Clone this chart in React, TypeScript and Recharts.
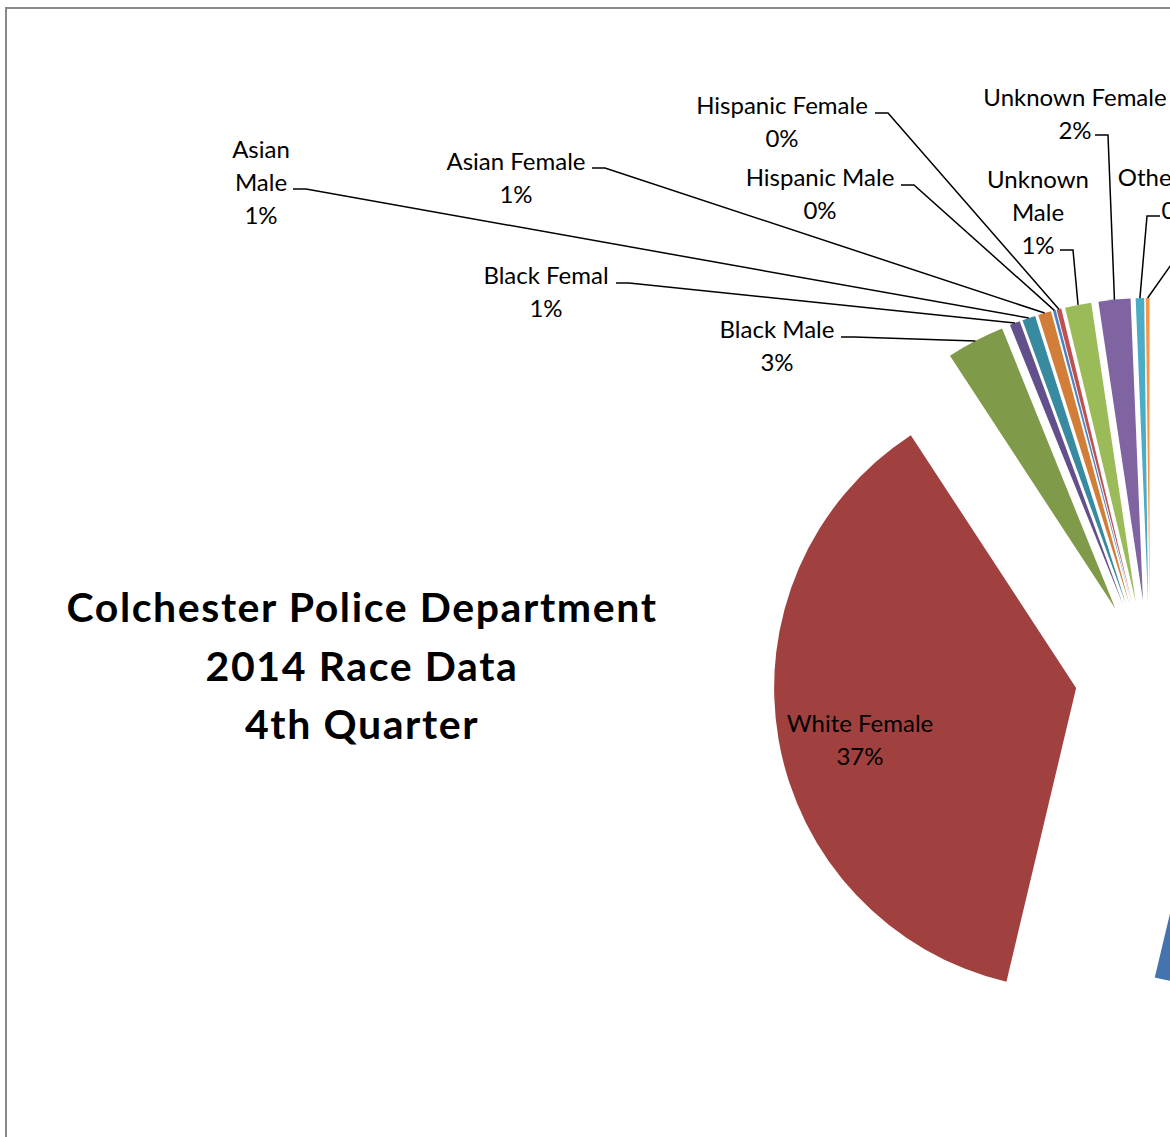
import { Cell, Pie, PieChart, Sector } from 'recharts'

// slices, clockwise from 12 o'clock
const NAMES = [
  'White Male',
  'White Female',
  'Black Male',
  'Black Femal',
  'Asian Male',
  'Asian Female',
  'Hispanic Male',
  'Hispanic Female',
  'Unknown Male',
  'Unknown Female',
  'Other Male',
  'Other Female',
]
const SHARES = [53.6, 37.0, 3.1, 0.55, 0.7, 0.7, 0.15, 0.25, 1.4, 1.7, 0.45, 0.2]
const COLORS = [
  '#4573AE',
  '#A0413F',
  '#7F9A48',
  '#62508C',
  '#378AA0',
  '#D27E38',
  '#4F81BD',
  '#C0504D',
  '#9BBB59',
  '#8064A2',
  '#4BACC6',
  '#F79646',
]

const TITLE_LINES = ['Colchester Police Department', '2014 Race Data', '4th Quarter']

// label placement (Excel had them dragged by hand)
const LABEL_POS: any[] = [
  { x: 1330, y: 860, inside: true },
  { x: 860, y: 722, inside: true },
  { x: 777, y: 328, ax: 841, ay: 337, dir: 1 },
  { x: 546, y: 274, ax: 616, ay: 283, dir: 1 },
  { x: 261, y: 148, ax: 293, ay: 189, dir: 1, wrap: true },
  { x: 516, y: 160, ax: 592, ay: 168, dir: 1 },
  { x: 820, y: 176, ax: 901, ay: 185, dir: 1 },
  { x: 782, y: 104, ax: 875, ay: 113, dir: 1 },
  { x: 1038, y: 178, ax: 1060, ay: 250, dir: 1, wrap: true },
  { x: 1075, y: 96, ax: 1095, ay: 135, dir: 1 },
  { x: 1178, y: 176, ax: 1160, ay: 216, dir: -1 },
  { x: 1258, y: 245, ax: 1186, ay: 262, dir: -1 },
]

const data = NAMES.map((name, i) => ({ name, value: SHARES[i] }))

const RAD = Math.PI / 180
const EXPLODE = 75
const LINE_H = 33
const FONT = 'Lato, sans-serif'

function ExplodedSector(props: any) {
  const { cx, cy, midAngle, innerRadius, outerRadius, startAngle, endAngle, fill } = props
  const dx = EXPLODE * Math.cos(-midAngle * RAD)
  const dy = EXPLODE * Math.sin(-midAngle * RAD)
  return (
    <Sector
      cx={cx + dx}
      cy={cy + dy}
      innerRadius={innerRadius}
      outerRadius={outerRadius}
      startAngle={startAngle}
      endAngle={endAngle}
      fill={fill}
      stroke='none'
    />
  )
}

function renderLabel(props: any) {
  const { cx, cy, midAngle, outerRadius, index, percent } = props
  const pos = LABEL_POS[index]
  const name = NAMES[index]
  const lines = pos.wrap ? name.split(' ') : [name]
  lines.push(`${Math.round(percent * 100)}%`)

  let leader = null
  if (!pos.inside) {
    const r = EXPLODE + outerRadius
    const ex = cx + r * Math.cos(-midAngle * RAD)
    const ey = cy + r * Math.sin(-midAngle * RAD)
    leader = (
      <polyline
        points={`${pos.ax},${pos.ay} ${pos.ax + 13 * pos.dir},${pos.ay} ${ex},${ey}`}
        fill='none'
        stroke='#000'
        strokeWidth={1.5}
      />
    )
  }

  return (
    <g key={`lbl-${index}`}>
      {leader}
      {lines.map((t: string, i: number) => (
        <text
          key={i}
          x={pos.x}
          y={pos.y + i * LINE_H}
          textAnchor='middle'
          dominantBaseline='central'
          fontFamily={FONT}
          fontSize={24}
          fill='#000'
        >
          {t}
        </text>
      ))}
    </g>
  )
}

export default function App() {
  return (
    <div
      style={{
        position: 'absolute',
        left: 0,
        top: 0,
        width: 1170,
        height: 1137,
        overflow: 'hidden',
        background: '#fff',
      }}
    >
      <div
        style={{
          position: 'absolute',
          left: 5,
          top: 7,
          width: 3000,
          height: 3000,
          borderLeft: '2px solid #898989',
          borderTop: '2px solid #898989',
        }}
      />
      <div style={{ position: 'absolute', left: 0, top: 0 }}>
        <PieChart
          width={1600}
          height={1137}
          margin={{ top: 0, right: 0, bottom: 0, left: 0 }}
        >
          <Pie
            data={data}
            dataKey='value'
            nameKey='name'
            cx={1150}
            cy={675}
            outerRadius={302}
            startAngle={90}
            endAngle={-270}
            stroke='none'
            shape={ExplodedSector}
            activeShape={ExplodedSector}
            inactiveShape={ExplodedSector}
            label={renderLabel}
            labelLine={false}
            isAnimationActive={false}
          >
            {data.map((d, i) => (
              <Cell key={d.name} fill={COLORS[i]} />
            ))}
          </Pie>
        </PieChart>
      </div>
      <div
        style={{
          position: 'absolute',
          left: 362 - 400,
          top: 578,
          width: 800,
          textAlign: 'center',
          fontFamily: FONT,
          fontWeight: 700,
          fontSize: 41,
          letterSpacing: 1.6,
          lineHeight: '58.5px',
          color: '#000',
        }}
      >
        {TITLE_LINES.map(t => (
          <div key={t}>{t}</div>
        ))}
      </div>
    </div>
  )
}
